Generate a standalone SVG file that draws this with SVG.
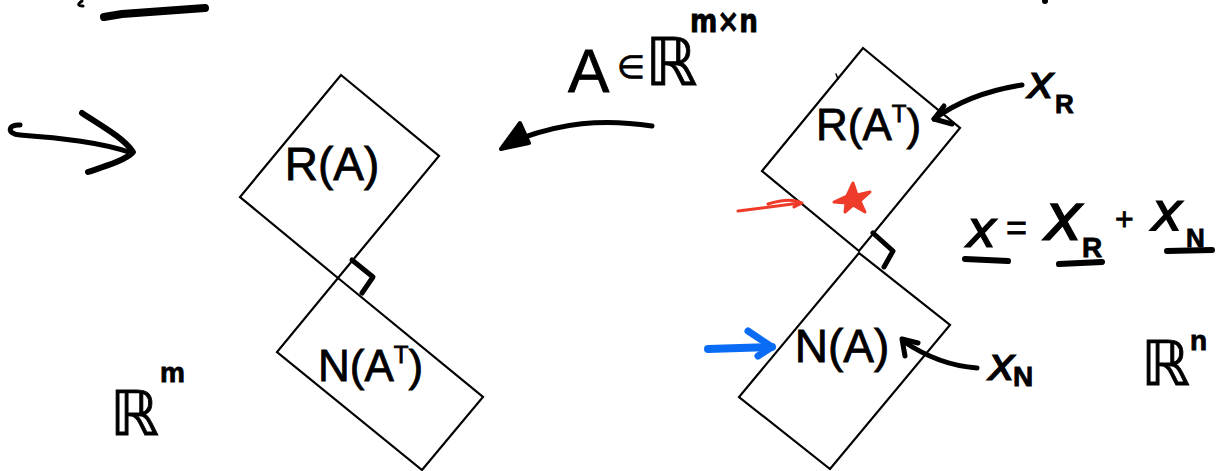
<svg xmlns="http://www.w3.org/2000/svg" width="1218" height="471" viewBox="0 0 1218 471">
<style>
.box{fill:none;stroke:#000;stroke-width:2.2;stroke-linejoin:miter}
.ink{fill:none;stroke:#000;stroke-linecap:round;stroke-linejoin:round}
.t{font-family:"Liberation Sans","DejaVu Sans",sans-serif;fill:#000;stroke:#000;stroke-width:0.8}
.d{font-family:"DejaVu Sans",sans-serif;fill:#000;stroke:#000;stroke-width:0.8}
.i{font-family:"DejaVu Sans",sans-serif;font-style:italic;fill:#000;stroke:#000;stroke-width:1.2}
.b{font-weight:bold}
</style>
<rect width="1218" height="471" fill="#fff"/>

<!-- top-left scribbles -->
<path class="ink" d="M82,1 Q75,6 83,6" stroke-width="3"/>
<path class="ink" d="M104,17 L122,14 L205,8" stroke-width="8"/>
<circle cx="1045" cy="1" r="3" fill="#000"/>

<g id="box-RA">
<polygon class="box" points="341,75 439,156 338,278 240,197"/>
<text class="t" x="332" y="180" font-size="46" text-anchor="middle">R(A)</text>
</g>

<g id="box-NAT">
<polygon class="box" points="338,278 483,397 422,470 277,352"/>
<text class="t" x="318" y="381" font-size="44">N(A<tspan font-size="24" dy="-18">T</tspan><tspan dy="18">)</tspan></text>
</g>

<g id="box-RAT">
<polygon class="box" points="863,48 960,128 859,251 762,171"/>
<path class="ink" d="M836,74 L838,79" stroke-width="1.5"/>
<text class="t" x="816" y="140" font-size="44">R(A<tspan font-size="24" dy="-18">T</tspan><tspan dy="18">)</tspan></text>
</g>

<g id="box-NA">
<polygon class="box" points="859,253 950,325 830,469 739,397"/>
<text class="t" x="842" y="362" font-size="46" text-anchor="middle">N(A)</text>
</g>

<g id="right-angles">
<path class="ink" d="M352,260 L373,277 L362,293" stroke-width="5"/>
<path class="ink" d="M873,233 L893,251 L884,267" stroke-width="5"/>
</g>

<g id="connectors">
<!-- left entry arrow -->
<path class="ink" d="M20,125 C8,124 6,134 20,135 C60,138 100,142 132,153" stroke-width="5"/>
<path class="ink" d="M82,113 C100,125 124,138 133,152 C126,160 106,166 88,172" stroke-width="6"/>
<!-- A arrow -->
<path class="ink" d="M652,126 C600,118 560,124 522,138" stroke-width="5"/>
<polygon points="501,149 520,123 529,143" fill="#000" stroke="#000" stroke-width="4" stroke-linejoin="round"/>
<!-- x_R arrow -->
<path class="ink" d="M1022,85 C990,90 960,100 934,119" stroke-width="5"/>
<path class="ink" d="M944,106 L934,119 L952,124" stroke-width="5"/>
<!-- x_N arrow -->
<path class="ink" d="M977,368 C950,366 925,356 903,341" stroke-width="5"/>
<path class="ink" d="M905,356 L902,339 L918,343" stroke-width="5"/>
<!-- blue arrow -->
<path d="M708,349 L772,347" fill="none" stroke="#0a6cf5" stroke-width="8" stroke-linecap="round"/>
<path d="M748,331 L772,347 L758,356" fill="none" stroke="#0a6cf5" stroke-width="7" stroke-linecap="round" stroke-linejoin="round"/>
<!-- red arrow -->
<path d="M738,211 L800,203 M768,204 Q790,197 802,203 L794,207" fill="none" stroke="#ee3b2a" stroke-width="3" stroke-linecap="round" stroke-linejoin="round"/>
</g>

<!-- red star -->
<path d="M853,183 L857,195 L870,192 L860,201 L865,212 L853,205 L845,212 L846,203 L834,202 L847,196 Z" fill="#ee3b2a" stroke="#ee3b2a" stroke-width="3" stroke-linejoin="round"/>

<g id="label-A">
<text class="t" x="568" y="92" font-size="62">A</text>
<text class="d" x="617" y="78" font-size="32">∈</text>
<text class="d" x="645" y="85" font-size="66">ℝ</text>
<text class="d b" x="690" y="32" font-size="32" textLength="68" lengthAdjust="spacingAndGlyphs">m×n</text>
</g>

<g id="label-xR">
<text class="i" x="1027" y="98" font-size="46">x</text>
<text class="t b" x="1055" y="113" font-size="26">R</text>
</g>

<g id="label-xN">
<text class="i" x="988" y="380" font-size="46">x</text>
<text class="t b" x="1013" y="386" font-size="28">N</text>
</g>

<g id="equation">
<text class="i" x="966" y="247" font-size="52">x</text>
<path class="ink" d="M965,259 L1008,261" stroke-width="6"/>
<text class="t" x="1006" y="240" font-size="36">=</text>
<text class="i" x="1044" y="240" font-size="66">x</text>
<text class="t b" x="1082" y="257" font-size="28">R</text>
<path class="ink" d="M1059,264 L1102,262" stroke-width="6"/>
<text class="t" x="1115" y="230" font-size="32">+</text>
<text class="i" x="1151" y="230" font-size="54">x</text>
<text class="t b" x="1186" y="247" font-size="26">N</text>
<path class="ink" d="M1167,251 L1212,250" stroke-width="6"/>
</g>

<g id="label-Rn">
<text class="d" x="1141" y="385" font-size="62">ℝ</text>
<text class="t b" x="1190" y="350" font-size="28">n</text>
</g>

<g id="label-Rm">
<text class="d" x="110" y="435" font-size="62">ℝ</text>
<text class="t b" x="160" y="382" font-size="28">m</text>
</g>
</svg>
